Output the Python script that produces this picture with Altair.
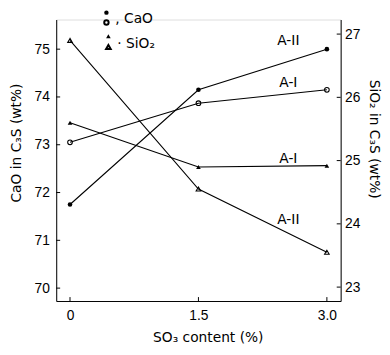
import altair as alt
import pandas as pd

# ---- data ----
so3 = [0, 1.5, 3.0]
x_tick_values = [0, 1.5, 3.0]
x_tick_labels = ["0", "1.5", "3.0"]
left_tick_values = [70, 71, 72, 73, 74, 75]
right_tick_values = [23, 24, 25, 26, 27]

cao_a2 = [71.75, 74.15, 75.0]     # filled circles
cao_a1 = [73.05, 73.87, 74.15]    # open circles
sio2_a1 = [25.6, 24.9, 24.92]     # filled triangles
sio2_a2 = [26.9, 24.55, 23.55]    # open triangles

cao_label_text = ["A-II", "A-I"]
cao_label_x = [2.55, 2.55]
cao_label_y = [75.16, 74.29]
sio2_label_text = ["A-I", "A-II"]
sio2_label_x = [2.55, 2.55]
sio2_label_y = [25.03, 24.06]

W, H = 289, 286
FONT = "Liberation Sans"
TFONT = "DejaVu Sans"

cao = pd.DataFrame({
    "x": so3 * 2,
    "y": cao_a2 + cao_a1,
    "s": ["A-II"] * 3 + ["A-I"] * 3,
    "filled": [True] * 3 + [False] * 3,
})
sio2 = pd.DataFrame({
    "x": so3 * 2,
    "y": sio2_a1 + sio2_a2,
    "s": ["A-I"] * 3 + ["A-II"] * 3,
    "filled": [True] * 3 + [False] * 3,
})

xscale = alt.Scale(domain=[-0.161, 3.161], nice=False, zero=False)
X = alt.X("x:Q", scale=xscale, axis=alt.Axis(
    values=x_tick_values,
    labelExpr="datum.value == 0 ? '" + x_tick_labels[0] + "' : format(datum.value, '.1f')",
    title="SO₃ content (%)", titleX=154, titleY=37, titleFontSize=14,
    titleFont=TFONT, titleFontWeight="normal", titleBaseline="middle",
    ticks=False, labelPadding=8, grid=False, domainColor="black",
    labelFontSize=14, labelFont=FONT, labelColor="black", titleColor="black"))

YL = alt.Y("y:Q", scale=alt.Scale(domain=[69.73, 75.62], nice=False, zero=False),
           axis=alt.Axis(values=left_tick_values, title="CaO in C₃S (wt%)",
                         titleX=-40, titleY=125, titleAngle=-90, titleBaseline="middle",
                         titleFontSize=14, titleFont=TFONT, titleFontWeight="normal",
                         ticks=False, labelPadding=7, grid=False, domainColor="black",
                         labelFontSize=14, labelFont=FONT, labelColor="black",
                         titleColor="black"))
YR = alt.Y("y:Q", scale=alt.Scale(domain=[22.78, 27.23], nice=False, zero=False),
           axis=alt.Axis(orient="right", values=right_tick_values,
                         title="SiO₂ in C₃S (wt%)",
                         titleX=33, titleY=121, titleAngle=90, titleBaseline="middle",
                         titleFontSize=14, titleFont=TFONT, titleFontWeight="normal",
                         ticks=False, labelPadding=4, grid=False, domainColor="black",
                         labelFontSize=14, labelFont=FONT, labelColor="black",
                         titleColor="black"))

def series_layers(df, Y, shape):
    base = alt.Chart(df)
    line = base.mark_line(color="black", strokeWidth=1.1).encode(x=X, y=Y, detail="s:N")
    filled = base.transform_filter("datum.filled").mark_point(
        shape=shape, filled=True, color="black", size=22, opacity=1).encode(x=X, y=Y)
    hollow = base.transform_filter("!datum.filled").mark_point(
        shape=shape, filled=False, color="black", size=22, strokeWidth=1.1,
        opacity=1).encode(x=X, y=Y)
    return [line, filled, hollow]

def label_layer(xs, ys, texts, Y):
    d = pd.DataFrame({"x": xs, "y": ys, "t": texts})
    return alt.Chart(d).mark_text(font=TFONT, fontSize=14, color="black",
                                  baseline="middle").encode(x=X, y=Y, text="t:N")

# inward ticks
lt = alt.Chart(pd.DataFrame({"y": left_tick_values})).mark_rule(
    color="black").encode(y=YL, x=alt.value(0), x2=alt.value(4))
rt = alt.Chart(pd.DataFrame({"y": right_tick_values})).mark_rule(
    color="black").encode(y=YR, x=alt.value(W), x2=alt.value(W - 4))
bt = alt.Chart(pd.DataFrame({"x": x_tick_values})).mark_rule(
    color="black").encode(x=X, y=alt.value(H), y2=alt.value(H - 4))

# hand-drawn legend above the plot
one = alt.Chart(pd.DataFrame({"a": [0]}))
leg = [
    one.mark_point(shape="circle", filled=True, color="black", size=20, opacity=1).encode(
        x=alt.value(51), y=alt.value(-7)),
    one.mark_point(shape="circle", filled=False, color="black", size=20, opacity=1).encode(
        x=alt.value(51), y=alt.value(3)),
    one.mark_text(text=", CaO", font=TFONT, fontSize=14, align="left", baseline="middle",
                  color="black").encode(x=alt.value(60), y=alt.value(0)),
    one.mark_point(shape="triangle-up", filled=True, color="black", size=22, opacity=1).encode(
        x=alt.value(53), y=alt.value(17)),
    one.mark_point(shape="triangle-up", filled=False, color="black", size=22, opacity=1).encode(
        x=alt.value(53), y=alt.value(28)),
    one.mark_text(text="· SiO₂", font=TFONT, fontSize=14, align="left", baseline="middle",
                  color="black").encode(x=alt.value(62), y=alt.value(25)),
]

left = alt.layer(*series_layers(cao, YL, "circle"),
                 label_layer(cao_label_x, cao_label_y, cao_label_text, YL),
                 lt, bt, *leg)
right = alt.layer(*series_layers(sio2, YR, "triangle-up"),
                  label_layer(sio2_label_x, sio2_label_y, sio2_label_text, YR),
                  rt)

chart = alt.layer(left, right).resolve_scale(y="independent").properties(
    width=W, height=H,
    padding={"left": 49, "top": 9, "right": 42, "bottom": 44},
    autosize=alt.AutoSizeParams(type="none"),
).configure_view(stroke=None).configure(background="white")

chart.save("out.html", embed_options={"renderer": "svg", "actions": False})
